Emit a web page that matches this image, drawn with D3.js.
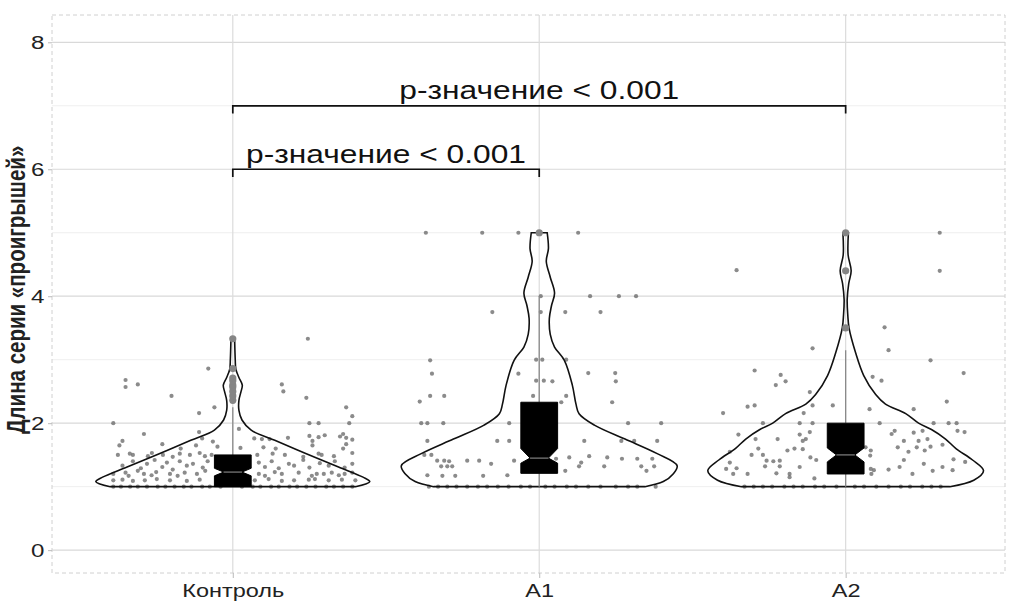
<!DOCTYPE html>
<html>
<head>
<meta charset="utf-8">
<script src="https://cdn.jsdelivr.net/npm/d3@7"></script>
<style>
  body { margin: 0; background: #fff; }
  svg { display: block; font-family: "Liberation Sans", Arial, sans-serif; }
</style>
</head>
<body>
<svg id="chart" width="1019" height="601"></svg>
<script>
// groups and axis ticks
var groups = ["Контроль", "A1", "A2"];
var yMajor = [0, 2, 4, 6, 8];
var yMinor = [1, 3, 5, 7];

// jittered observations: [offset from group centre (category units), value]
var controlPoints = [
  [-0.08,2.86],[-0.35,2.68],[-0.35,2.57],[-0.31,2.61],[-0.20,2.43],[-0.11,2.16],[-0.06,2.25],[-0.39,2.0],
  [-0.29,1.83],[-0.11,1.86],[-0.36,1.72],[-0.37,1.65],[-0.23,1.67],[-0.17,1.6],[-0.12,1.65],[-0.10,1.76],
  [-0.065,1.71],[-0.05,1.63],
  [0.245,3.33],[0.16,2.61],[0.165,2.5],[0.24,2.4],[0.37,2.25],[0.39,2.11],[0.25,2.0],[0.28,2.0],[0.38,2.0],
  [0.02,1.91],[0.07,1.76],[0.095,1.75],[0.12,1.75],[0.18,1.77],[0.25,1.8],[0.28,1.78],[0.30,1.81],[0.35,1.79],
  [0.36,1.83],[0.37,1.77],[0.39,1.74],[0.26,1.72],[0.26,1.65],[0.37,1.67],[0.025,1.61],[0.14,1.6],[0.10,1.62],[0.36,1.6],
  [-0.375,1.5],[-0.336,1.52],[-0.326,1.5],[-0.277,1.48],[-0.264,1.53],[-0.228,1.5],[-0.196,1.47],[-0.173,1.52],
  [-0.14,1.5],[-0.108,1.53],[-0.091,1.48],[-0.069,1.5],
  [0.17,1.5],[0.13,1.52],[0.08,1.5],[0.23,1.47],[0.28,1.52],[0.29,1.5],[0.33,1.48],[0.39,1.53],
  [-0.36,1.33],[-0.326,1.4],[-0.30,1.29],[-0.28,1.36],[-0.255,1.42],[-0.23,1.31],[-0.215,1.38],[-0.196,1.27],
  [-0.173,1.4],[-0.15,1.33],[-0.13,1.36],[-0.098,1.3],[-0.082,1.4],
  [0.085,1.38],[0.105,1.31],[0.127,1.4],[0.15,1.29],[0.183,1.36],[0.2,1.33],[0.23,1.42],[0.25,1.3],
  [0.284,1.37],[0.313,1.33],[0.333,1.4],[0.365,1.3],[0.39,1.36],
  [-0.39,1.2],[-0.35,1.22],[-0.34,1.17],[-0.31,1.25],[-0.29,1.2],[-0.265,1.18],[-0.25,1.23],[-0.205,1.2],
  [-0.18,1.17],[-0.157,1.22],[-0.117,1.2],[-0.09,1.25],
  [0.085,1.2],[0.105,1.17],[0.137,1.23],[0.16,1.2],[0.215,1.22],[0.258,1.17],[0.274,1.2],[0.297,1.2],
  [0.323,1.22],[0.346,1.18],[0.365,1.2],[0.39,1.22],
  [-0.39,1.1],[-0.36,1.11],[-0.326,1.09],[-0.287,1.1],[-0.248,1.12],[-0.205,1.1],[-0.15,1.09],[-0.108,1.11],
  [0.072,1.1],[0.117,1.12],[0.16,1.09],[0.2,1.1],[0.248,1.11],[0.268,1.12],[0.313,1.1],[0.356,1.11],[0.4,1.1],
  [-0.39,1],[-0.365,1],[-0.335,1],[-0.31,1],[-0.28,1],[-0.245,1],[-0.22,1],[-0.19,1],[-0.16,1],[-0.135,1],
  [-0.1,1],[-0.075,1],[-0.04,1],[0.03,1],[0.065,1],[0.09,1],[0.125,1],[0.15,1],[0.185,1],[0.21,1],
  [0.24,1],[0.27,1],[0.305,1],[0.33,1],[0.36,1],[0.39,1]
];
var a1Points = [
  [-0.37,5.0],[-0.186,5.0],[-0.068,5.0],[-0.153,3.75],[-0.356,2.99],[-0.35,2.78],[-0.356,2.43],[-0.31,2.43],
  [-0.39,2.34],[-0.068,2.78],[-0.098,2.0],[-0.365,2.0],[-0.385,2.0],[-0.313,2.0],[-0.365,1.72],[-0.137,1.72],
  [-0.098,1.72],[-0.375,1.5],[-0.352,1.5],[-0.333,1.41],[-0.31,1.41],[-0.294,1.4],[-0.235,1.41],[-0.196,1.41],
  [-0.157,1.36],[-0.082,1.41],[-0.32,1.32],[-0.30,1.32],[-0.284,1.32],[-0.365,1.18],[-0.316,1.17],[-0.274,1.17],
  [-0.183,1.17],[-0.104,1.18],[-0.02,2.43],
  [0.005,4.0],[0.005,3.75],[-0.01,3.0],[0.01,3.0],[-0.01,2.67],[0.015,2.67],[0.043,2.66],
  [0.127,5.0],[0.166,4.0],[0.26,4.0],[0.316,4.0],[0.085,3.75],[0.2,3.75],[0.088,3.0],[0.16,2.79],[0.248,2.79],
  [0.25,2.66],[0.088,2.43],[0.072,2.33],[0.238,2.33],[0.29,2.0],[0.398,2.0],[0.147,1.72],[0.31,1.72],[0.385,1.72],
  [0.268,1.72],[0.055,1.44],[0.098,1.46],[0.163,1.48],[0.222,1.46],[0.27,1.44],[0.32,1.44],[0.369,1.44],
  [0.137,1.38],[0.13,1.32],[0.212,1.32],[0.333,1.32],[0.375,1.32],[0.085,1.25],[0.35,1.25],[0.38,1.0],
  [-0.36,1],[-0.33,1],[-0.3,1],[-0.27,1],[-0.235,1],[-0.2,1],[-0.17,1],[-0.135,1],[-0.1,1],[-0.06,1],
  [-0.03,1],[0.02,1],[0.05,1],[0.09,1],[0.12,1],[0.16,1],[0.2,1],[0.25,1],[0.29,1],[0.32,1]
];
var a2Points = [
  [-0.356,4.41],[-0.108,3.18],[-0.297,2.83],[-0.212,2.76],[-0.196,2.66],[-0.228,2.6],[-0.117,2.49],[-0.32,2.26],
  [-0.297,2.28],[-0.40,2.16],[-0.108,2.28],[-0.042,2.28],[-0.137,2.16],[-0.27,2.0],[-0.15,2.0],[-0.108,2.0],
  [-0.35,1.82],[-0.294,1.75],[-0.222,1.75],[-0.15,1.82],[-0.117,1.86],[-0.13,1.75],[-0.14,1.72],[-0.285,1.6],
  [-0.19,1.57],[-0.167,1.6],[-0.14,1.59],[-0.307,1.5],[-0.27,1.5],[-0.378,1.55],[-0.115,1.46],[-0.096,1.42],
  [-0.258,1.41],[-0.236,1.4],[-0.215,1.41],[-0.263,1.32],[-0.215,1.32],[-0.378,1.38],[-0.39,1.28],[-0.356,1.29],
  [-0.367,1.2],[-0.32,1.2],[-0.226,1.21],[-0.183,1.2],[-0.15,1.31],[-0.102,1.13],[-0.183,1.15],
  [0.307,5.0],[0.307,4.4],[0.127,3.51],[0.14,3.15],[0.277,2.99],[0.385,2.79],[0.088,2.73],[0.117,2.67],
  [0.33,2.34],[0.078,2.22],[0.222,2.22],[0.111,2.0],[0.287,2.0],[0.336,2.0],[0.362,2.0],[0.16,1.88],
  [0.222,1.85],[0.251,1.88],[0.365,1.88],[0.388,1.86],[0.15,1.83],[0.19,1.72],[0.238,1.72],[0.267,1.75],
  [0.277,1.63],[0.316,1.66],[0.17,1.62],[0.232,1.62],[0.205,1.55],[0.258,1.57],[0.082,1.57],[0.065,1.62],
  [0.19,1.42],[0.255,1.36],[0.352,1.43],[0.39,1.39],[0.082,1.28],[0.092,1.26],[0.14,1.27],[0.176,1.31],
  [0.218,1.2],[0.284,1.25],[0.316,1.31],[0.349,1.26],[0.08,1.49],[0.084,1.2],
  [-0.33,1],[-0.3,1],[-0.27,1],[-0.24,1],[-0.2,1],[-0.17,1],[-0.14,1],[-0.1,1],[-0.07,1],[-0.03,1],
  [0.03,1],[0.06,1],[0.1,1],[0.14,1],[0.18,1],[0.21,1],[0.25,1],[0.28,1],[0.31,1]
];
var groupPoints = [controlPoints, a1Points, a2Points];

// violin outlines: [value, half width in category units]
var controlViolin = [[1.0,0.40],[1.08,0.447],[1.15,0.425],[1.31,0.345],[1.52,0.24],[1.73,0.137],[1.89,0.06],
  [2.05,0.03],[2.2,0.02],[2.36,0.02],[2.5,0.027],[2.6,0.031],[2.72,0.02],[2.85,0.01],[3.0,0.008],[3.33,0.006]];
var a1Violin = [[1.0,0.345],[1.08,0.405],[1.2,0.437],[1.33,0.45],[1.52,0.385],[1.75,0.28],[1.97,0.18],[2.15,0.13],
  [2.3,0.12],[2.6,0.108],[2.99,0.082],[3.2,0.05],[3.4,0.036],[3.65,0.033],[3.85,0.04],[4.05,0.05],[4.3,0.036],
  [4.55,0.023],[4.75,0.03],[5.0,0.026]];
var a2Violin = [[1.0,0.34],[1.1,0.418],[1.25,0.45],[1.42,0.414],[1.6,0.36],[1.75,0.326],[1.9,0.28],[2.0,0.238],
  [2.15,0.196],[2.3,0.13],[2.45,0.098],[2.75,0.059],[3.1,0.033],[3.5,0.011],[3.7,0.007],[3.95,0.005],[4.2,0.01],
  [4.4,0.018],[4.65,0.008],[5.0,0.009]];
var groupViolins = [controlViolin, a1Violin, a2Violin];

// notched box statistics
var boxLower    = [1.0, 1.21, 1.2];
var notchLower  = [1.17, 1.37, 1.39];
var boxMedian   = [1.23, 1.45, 1.5];
var notchUpper  = [1.29, 1.6, 1.61];
var boxUpper    = [1.5, 2.33, 2.0];
var whiskerLow  = [1.0, 1.0, 1.0];
var whiskerHigh = [2.25, 4.0, 3.15];
var outliers = [[2.36, 2.43, 2.5, 2.57, 2.6, 2.67, 2.71, 2.86, 3.33], [5.0], [3.5, 4.4, 5.0]];

// significance brackets
var bracketFrom  = [0, 0];
var bracketTo    = [1, 2];
var bracketLevel = [6, 7];
var bracketLabel = ["p-значение < 0.001", "p-значение < 0.001"];

// text in the picture is stretched sideways
var SX = 1.27;

var svg = d3.select("#chart"),
    margin = {top: 15, right: 14, bottom: 28, left: 52},
    width = +svg.attr("width") - margin.left - margin.right,
    height = +svg.attr("height") - margin.top - margin.bottom,
    g = svg.append("g").attr("transform", "translate(" + margin.left + "," + margin.top + ")");

var x = d3.scaleLinear().domain([-0.59, 2.52]).range([0, width]);
var y = d3.scaleLinear().domain([-0.36, 8.43]).range([height, 0]);

// grid
g.selectAll(".minor").data(yMinor).enter().append("line")
    .attr("x1", 0).attr("x2", width)
    .attr("y1", function(d) { return y(d); }).attr("y2", function(d) { return y(d); })
    .attr("stroke", "#efefef").attr("stroke-width", 1);
g.selectAll(".major").data(yMajor).enter().append("line")
    .attr("x1", 0).attr("x2", width)
    .attr("y1", function(d) { return y(d); }).attr("y2", function(d) { return y(d); })
    .attr("stroke", "#d9d9d9").attr("stroke-width", 1.2);
g.selectAll(".vgrid").data(groups).enter().append("line")
    .attr("x1", function(d, i) { return x(i); }).attr("x2", function(d, i) { return x(i); })
    .attr("y1", 0).attr("y2", height)
    .attr("stroke", "#dcdcdc").attr("stroke-width", 1.2);
g.append("rect")
    .attr("width", width).attr("height", height)
    .attr("fill", "none").attr("stroke", "#d0d0d0").attr("stroke-dasharray", "4,3");

// axes
var yAxis = g.append("g")
    .call(d3.axisLeft(y).tickValues(yMajor).tickSize(4).tickPadding(2));
yAxis.select(".domain").remove();
yAxis.selectAll("line").attr("stroke", "#bbb");
yAxis.selectAll("text")
    .attr("font-size", 19).attr("fill", "#222")
    .attr("transform", "scale(" + SX + ",1)");

var xAxis = g.append("g")
    .attr("transform", "translate(0," + height + ")")
    .call(d3.axisBottom(x).tickValues([0, 1, 2]).tickFormat(function(i) { return groups[i]; })
        .tickSize(5).tickPadding(6));
xAxis.select(".domain").remove();
xAxis.selectAll("line").attr("stroke", "#bbb");
xAxis.selectAll("text")
    .attr("font-size", 18.5).attr("fill", "#222")
    .attr("transform", "scale(" + SX + ",1)");

svg.append("text")
    .attr("transform", "translate(25," + (margin.top + y(4.1)) + ") scale(" + SX + ",1) rotate(-90)")
    .attr("text-anchor", "middle")
    .attr("font-size", 20.5).attr("font-weight", "bold").attr("fill", "#222")
    .text("Длина серии «проигрышей»");

// jittered points
groupPoints.forEach(function(pts, i) {
  g.append("g").selectAll("circle").data(pts).enter().append("circle")
      .attr("cx", function(d) { return x(i + d[0]); })
      .attr("cy", function(d) { return y(d[1]); })
      .attr("r", 2.1)
      .attr("fill", "#6e6e6e").attr("fill-opacity", 0.8);
});

// violins
groupViolins.forEach(function(v, i) {
  var area = d3.area()
      .curve(d3.curveCatmullRom.alpha(0.5))
      .y(function(d) { return y(d[0]); })
      .x0(function(d) { return x(i - d[1]); })
      .x1(function(d) { return x(i + d[1]); });
  g.append("path")
      .datum(v)
      .attr("d", area)
      .attr("fill", "none").attr("stroke", "#111").attr("stroke-width", 1.6);
});

// whiskers
groups.forEach(function(name, i) {
  g.append("line")
      .attr("x1", x(i)).attr("x2", x(i))
      .attr("y1", y(boxUpper[i])).attr("y2", y(whiskerHigh[i]))
      .attr("stroke", "#8a8a8a").attr("stroke-width", 1.3);
  g.append("line")
      .attr("x1", x(i)).attr("x2", x(i))
      .attr("y1", y(boxLower[i])).attr("y2", y(whiskerLow[i]))
      .attr("stroke", "#8a8a8a").attr("stroke-width", 1.3);
});

// notched boxes
var boxHalf = 0.06, notchHalf = 0.03;
var boxLine = d3.line().x(function(d) { return x(d[0]); }).y(function(d) { return y(d[1]); });
groups.forEach(function(name, i) {
  var pts = [
    [i - boxHalf, boxUpper[i]], [i + boxHalf, boxUpper[i]],
    [i + boxHalf, notchUpper[i]], [i + notchHalf, boxMedian[i]], [i + boxHalf, notchLower[i]],
    [i + boxHalf, boxLower[i]], [i - boxHalf, boxLower[i]],
    [i - boxHalf, notchLower[i]], [i - notchHalf, boxMedian[i]], [i - boxHalf, notchUpper[i]]
  ];
  g.append("path")
      .attr("d", boxLine(pts) + "Z")
      .attr("fill", "#000").attr("stroke", "#000").attr("stroke-width", 1);
  g.append("line")
      .attr("x1", x(i - notchHalf)).attr("x2", x(i + notchHalf))
      .attr("y1", y(boxMedian[i])).attr("y2", y(boxMedian[i]))
      .attr("stroke", "#9a9a9a").attr("stroke-width", 1);
});

// outliers
outliers.forEach(function(vals, i) {
  g.append("g").selectAll("circle").data(vals).enter().append("circle")
      .attr("cx", x(i))
      .attr("cy", function(d) { return y(d); })
      .attr("r", 3.6)
      .attr("fill", "#858585");
});

// brackets with labels
bracketLevel.forEach(function(lv, k) {
  var x0 = x(bracketFrom[k]), x1 = x(bracketTo[k]);
  g.append("path")
      .attr("d", "M" + x0 + "," + y(lv - 0.12) + "V" + y(lv) + "H" + x1 + "V" + y(lv - 0.12))
      .attr("fill", "none").attr("stroke", "#111").attr("stroke-width", 1.7);
  g.append("text")
      .attr("transform", "translate(" + ((x0 + x1) / 2) + "," + y(lv + 0.1) + ") scale(" + SX + ",1)")
      .attr("text-anchor", "middle")
      .attr("font-size", 25).attr("fill", "#111")
      .text(bracketLabel[k]);
});
</script>
</body>
</html>
